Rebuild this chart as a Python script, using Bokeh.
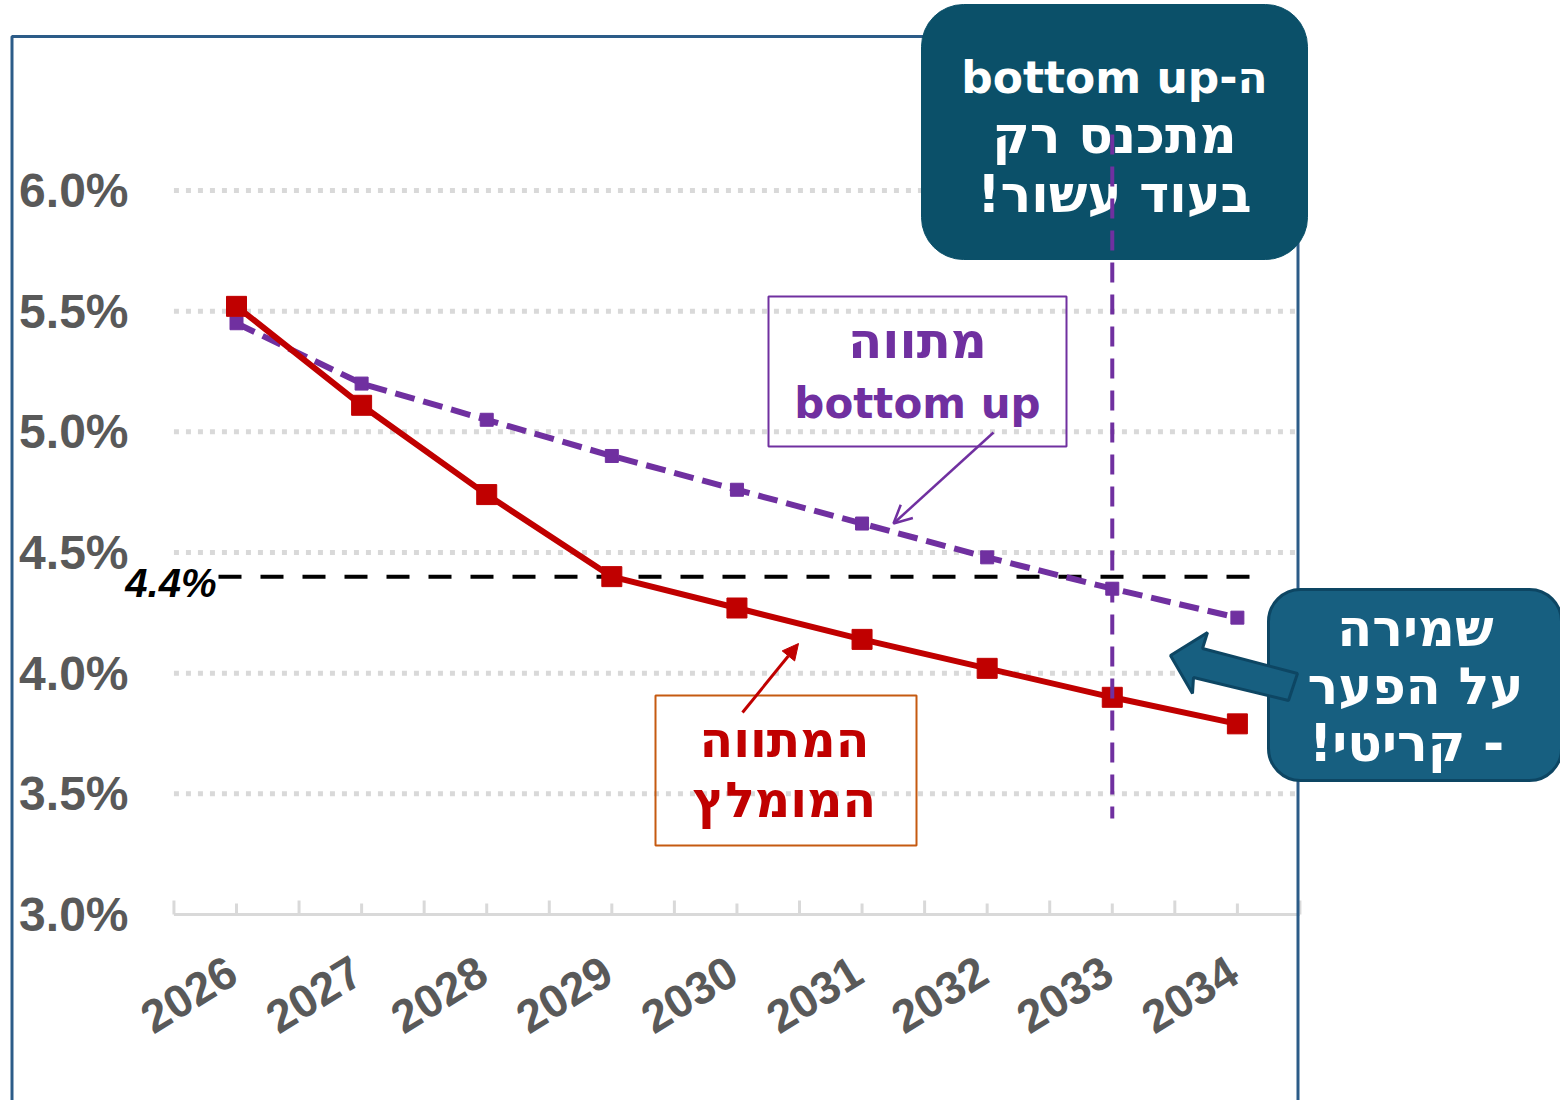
from bokeh.plotting import figure
from bokeh.models import (Range1d, BoxAnnotation, Label, Arrow, NormalHead, OpenHead,
                          PolyAnnotation)
from bokeh.core.properties import value
from bokeh.embed import file_html
from bokeh.resources import INLINE

# ---------------- data ----------------
years = [2026, 2027, 2028, 2029, 2030, 2031, 2032, 2033, 2034]
year_labels = ["2026", "2027", "2028", "2029", "2030", "2031", "2032", "2033", "2034"]
recommended = [5.52, 5.11, 4.74, 4.40, 4.27, 4.14, 4.02, 3.90, 3.79]   # המתווה המומלץ
bottom_up = [5.45, 5.20, 5.05, 4.90, 4.76, 4.62, 4.48, 4.35, 4.23]     # מתווה bottom up
y_ticks = [3.0, 3.5, 4.0, 4.5, 5.0, 5.5, 6.0]
y_tick_labels = ["3.0%", "3.5%", "4.0%", "4.5%", "5.0%", "5.5%", "6.0%"]
threshold = 4.4
threshold_label = "4.4%"
convergence_year = 2033

callout_top = ["ה-bottom up", "מתכנס רק", "בעוד עשור!"]
callout_right = ["שמירה", "על הפער", "-  קריטי!"]
bu_label = ["מתווה", "bottom up"]
rec_label = ["המתווה", "המומלץ"]

RLE, PDF = "\u202B", "\u202C"

# ---------------- geometry ----------------
W, H = 1560, 1100
PXX = 125.11          # pixels per year
PXY = 241.33          # pixels per percentage point
X_REF, XPX_REF = years[0], 236
Y_REF, YPX_REF = y_ticks[0], 914
BL = 17               # label baseline correction (px)


def xd(px):
    return X_REF + (px - XPX_REF) / PXX


def yd(py):
    return Y_REF + (YPX_REF - py) / PXY


p = figure(width=W, height=H, x_range=Range1d(xd(0), xd(W)), y_range=Range1d(yd(H), yd(0)),
           output_backend="svg", toolbar_location=None, title=None,
           x_axis_location=None, y_axis_location=None,
           min_border_left=0, min_border_right=0, min_border_top=0, min_border_bottom=0)
p.outline_line_color = None
p.background_fill_color = "white"
p.border_fill_color = "white"
p.xgrid.visible = False
p.ygrid.visible = False

x_lo, x_hi = years[0] - 0.5, years[-1] + 0.5
GRAY = "#595959"
LIGHT = "#d9d9d9"

# gridlines (dotted)
gy = y_ticks[1:]
p.segment(x0=[x_lo] * len(gy), y0=gy, x1=[x_hi] * len(gy), y1=gy,
          line_color=LIGHT, line_width=5, line_dash="5 7")

# x axis line and ticks
p.segment(x0=[x_lo], y0=[y_ticks[0]], x1=[x_hi], y1=[y_ticks[0]], line_color=LIGHT, line_width=3)
bounds = [y - 0.5 for y in years] + [years[-1] + 0.5]
p.segment(x0=years, y0=[y_ticks[0]] * len(years), x1=years, y1=[y_ticks[0] + 11 / PXY] * len(years),
          line_color=LIGHT, line_width=3)
p.segment(x0=bounds, y0=[y_ticks[0]] * len(bounds), x1=bounds, y1=[y_ticks[0] + 14 / PXY] * len(bounds),
          line_color=LIGHT, line_width=3)

# y tick labels
p.text(x=[xd(128)] * len(y_ticks), y=y_ticks, text=y_tick_labels, text_align="right",
       text_baseline="middle", text_font=value("Liberation Sans"), text_font_style="bold",
       text_font_size="48px", text_color=GRAY)

# x tick labels (rotated)
p.text(x=years, y=[y_ticks[0]] * len(years), text=year_labels, angle=0.55,
       x_offset=-4, y_offset=53, text_align="right", text_baseline="middle",
       text_font=value("Liberation Sans"), text_font_style="bold", text_font_size="46px",
       text_color=GRAY)

# threshold line
p.segment(x0=[xd(218)], y0=[threshold], x1=[xd(1250)], y1=[threshold], line_color="black",
          line_width=4, line_dash="23 19")

# series
p.line(years, bottom_up, line_color="#7030a0", line_width=6, line_dash="20 9")
p.scatter(years, bottom_up, marker="square", size=13, color="#7030a0")
p.line(years, recommended, line_color="#c00000", line_width=6)
p.scatter(years, recommended, marker="square", size=20, color="#c00000")

# frame border
p.add_layout(BoxAnnotation(left=xd(11.5), right=xd(1297.5), top=yd(36), bottom=yd(1200),
                           fill_color=None, fill_alpha=0, line_color="#2c5c88", line_alpha=1,
                           line_width=3))

# threshold label
p.add_layout(Label(x=xd(216), y=yd(582), text=threshold_label, text_align="right",
                   text_baseline="middle", text_font="Liberation Sans",
                   text_font_style="bold italic", text_font_size="40px", text_color="black"))

# purple box
p.add_layout(BoxAnnotation(left=xd(768), right=xd(1066), top=yd(296), bottom=yd(446),
                           fill_color=None, fill_alpha=0, line_color="#7030a0", line_alpha=1,
                           line_width=2))
for t, by, fs in zip(bu_label, [357, 420], ["50px", "42px"]):
    p.add_layout(Label(x=xd(917), y=yd(by - BL), text=t, text_align="center",
                       text_baseline="alphabetic", text_font="DejaVu Sans",
                       text_font_style="bold", text_font_size=fs, text_color="#7030a0"))
p.add_layout(Arrow(end=OpenHead(size=18, line_color="#7030a0", line_width=2.5),
                   x_start=xd(993), y_start=yd(432), x_end=xd(893), y_end=yd(523),
                   line_color="#7030a0", line_width=2.5))

# red box
p.add_layout(BoxAnnotation(left=xd(655), right=xd(916), top=yd(695), bottom=yd(845),
                           fill_color=None, fill_alpha=0, line_color="#c55a11", line_alpha=1,
                           line_width=2))
for t, by in zip(rec_label, [757, 817]):
    p.add_layout(Label(x=xd(784), y=yd(by - BL), text=t, text_align="center",
                       text_baseline="alphabetic", text_font="DejaVu Sans",
                       text_font_style="bold", text_font_size="49px", text_color="#c00000"))
p.add_layout(Arrow(end=NormalHead(size=16, fill_color="#c00000", line_color="#c00000"),
                   x_start=xd(742), y_start=yd(712), x_end=xd(798), y_end=yd(643),
                   line_color="#c00000", line_width=3))

# top callout
p.add_layout(BoxAnnotation(left=xd(921), right=xd(1307), top=yd(4), bottom=yd(259),
                           fill_color="#0b5069", fill_alpha=1, line_color="#0b5069",
                           line_alpha=1, line_width=1, border_radius=42))
for t, by, fs in zip(callout_top, [94, 152, 211], ["44px", "51px", "51px"]):
    p.add_layout(Label(x=xd(1114), y=yd(by - BL), text=RLE + t + PDF, text_align="center",
                       text_baseline="alphabetic", text_font="DejaVu Sans",
                       text_font_style="bold", text_font_size=fs, text_color="white"))

# right callout
p.add_layout(BoxAnnotation(left=xd(1268), right=xd(1561), top=yd(589), bottom=yd(780),
                           fill_color="#175f80", fill_alpha=1, line_color="#0d4663",
                           line_alpha=1, line_width=3, border_radius=32))
arrow_x = [1170, 1207, 1202, 1297, 1288, 1193, 1192]
arrow_y = [655, 632, 648, 673, 700, 677, 693]
p.add_layout(PolyAnnotation(xs=[xd(v) for v in arrow_x], ys=[yd(v) for v in arrow_y],
                            fill_color="#175f80", fill_alpha=1, line_color="#0d4663",
                            line_alpha=1, line_width=3))
for t, by in zip(callout_right, [645, 703, 760]):
    p.add_layout(Label(x=xd(1415), y=yd(by - BL), text=RLE + t + PDF, text_align="center",
                       text_baseline="alphabetic", text_font="DejaVu Sans",
                       text_font_style="bold", text_font_size="51px", text_color="white"))

# vertical convergence line (on top)
vr = p.segment(x0=[convergence_year], y0=[yd(134)], x1=[convergence_year], y1=[yd(818)],
               line_color="#7030a0", line_width=4, line_dash="20 12")
vr.level = "overlay"

open("out.html", "w").write(file_html(p, INLINE))
